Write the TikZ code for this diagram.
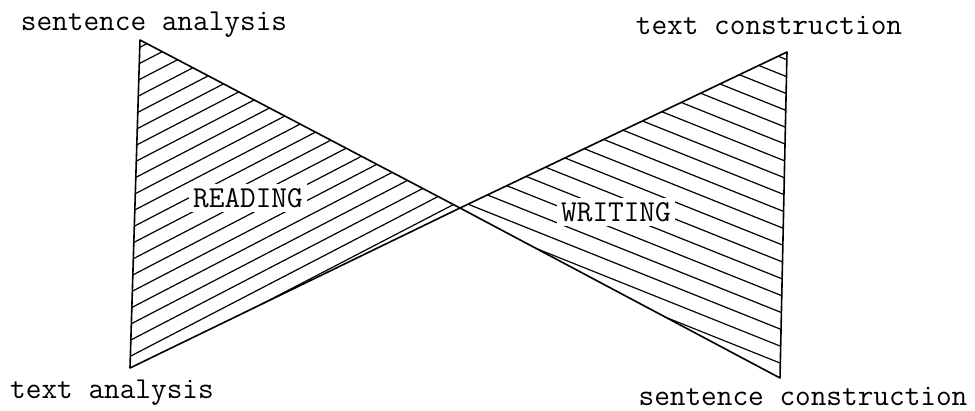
\documentclass[tikz,border=0pt]{standalone}
\usepackage{tikz}
\usetikzlibrary{positioning}
\tikzset{
  lbl/.style={font=\fontsize{15.2}{18}\selectfont\ttfamily, inner sep=0pt},
  side/.style={line width=0.8pt, line join=round},
  hatch/.style={line width=0.6pt}
}

\begin{document}
\begin{tikzpicture}[x=0.5pt,y=-0.5pt]
  \useasboundingbox (0,0) rectangle (975,411);
  % corners of the bow tie
  \coordinate (sa) at (140,40);
  \coordinate (ta) at (130,368);
  \coordinate (mid) at (460,208);
  \coordinate (tc) at (787,52);
  \coordinate (sc) at (780,378);
  % reading hatch
  \begin{scope}
    \clip (sa) -- (mid) -- (ta) -- cycle;
    \foreach \k in {0,...,21}
      \draw[hatch] (100,{52+16*\k}) -- (520,{52+16*\k-218});
  \end{scope}
  % writing hatch
  \begin{scope}
    \clip (tc) -- (mid) -- (sc) -- cycle;
    \foreach \k in {0,...,26}
      \draw[hatch] (830,{60+17*\k}) -- (400,{60+17*\k-172});
  \end{scope}
  % triangles
  \draw[side] (sa) -- (mid) -- (ta) -- cycle;
  \draw[side] (tc) -- (mid) -- (sc) -- cycle;
  % inner labels
  \node[lbl, fill=white, inner sep=2pt] (read) at (248,198) {READING};
  \node[lbl, fill=white, inner sep=2pt] (write) at (616,212) {WRITING};
  % corner labels
  \node[lbl] (senan) at (154,25) {sentence analysis};
  \node[lbl] (texan) at (112,393) {text analysis};
  \node[lbl] (texcon) at (769,25) {text construction};
  \node[lbl] (sencon) at (803,396) {sentence construction};
\end{tikzpicture}
\end{document}
